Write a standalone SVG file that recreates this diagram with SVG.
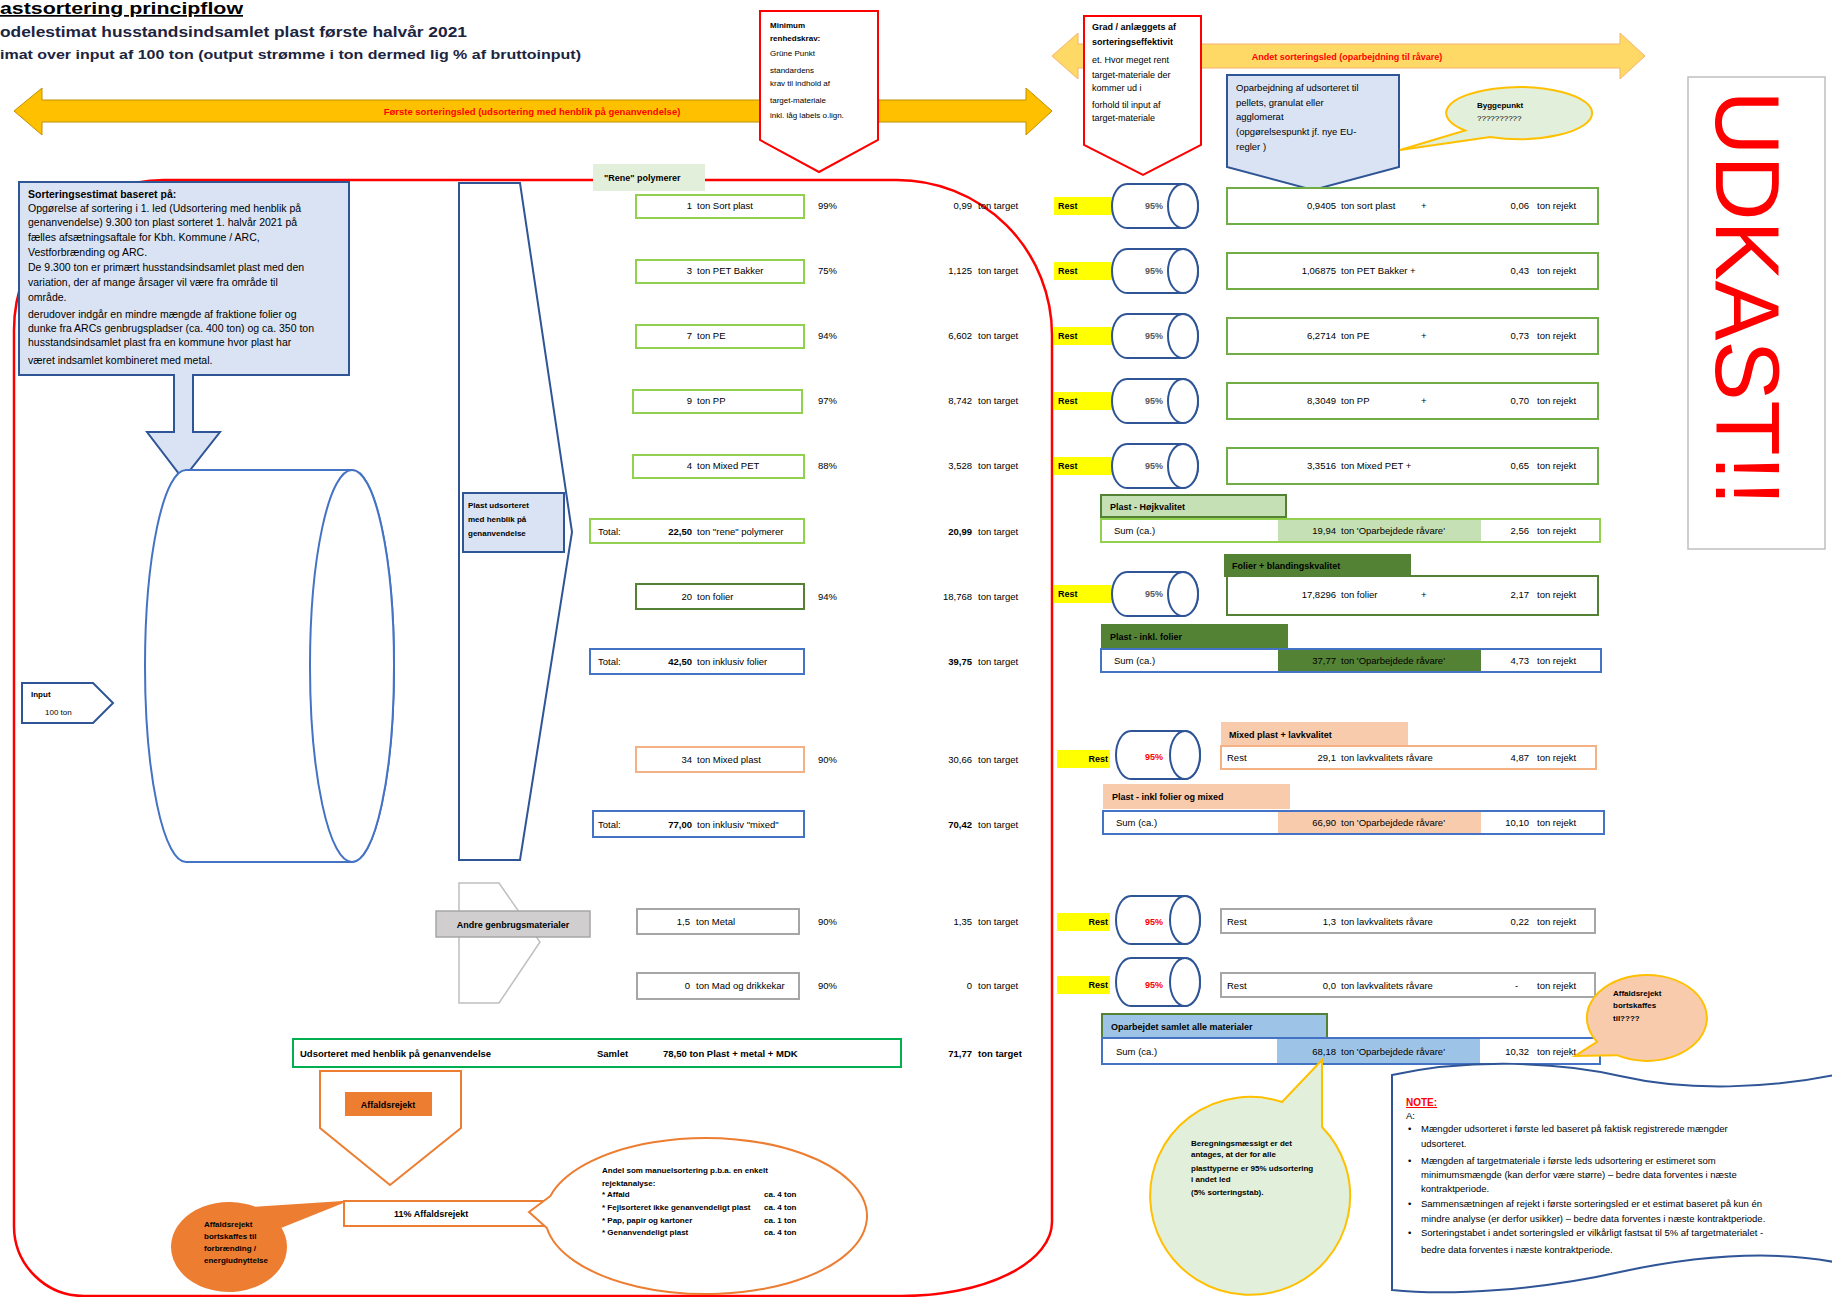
<svg xmlns="http://www.w3.org/2000/svg" width="1832" height="1297" viewBox="0 0 1832 1297">
<style>
text{font-family:"Liberation Sans",Arial,sans-serif;fill:#000;font-size:9.5px}
.f10{font-size:10.5px}
.f9{font-size:9px}
.f8{font-size:8px}
.b{font-weight:bold}
.e{text-anchor:end}
.m{text-anchor:middle}
.red{fill:#FF0000}
.gr{fill:#595959}
.bx{fill:#fff;stroke-width:2}
.lg{stroke:#92D050}
.rg{stroke:#70AD47}
.dg{stroke:#548235}
.bl{stroke:#4472C4}
.og{stroke:#F4B183}
.gy{stroke:#A6A6A6}
.cyl{fill:#fff;stroke:#2F5597;stroke-width:2}
.yel{fill:#FFFF00}
.t1{font-size:17px;font-weight:bold;text-decoration:underline}
.t2{font-size:15.5px;font-weight:bold;fill:#1c2440}
.t3{font-size:13.5px;font-weight:bold;fill:#1c2440}
.udk{font-size:90px;fill:#FF0000;text-anchor:middle}
.note{font-size:10px;font-weight:bold;fill:#FF0000;text-decoration:underline}
</style>
<defs>
<g id="cy"><path class="cyl" d="M-28,-22 H28 A15,22 0 0 1 28,22 H-28 A15,22 0 0 1 -28,-22 Z"/><ellipse class="cyl" cx="28" cy="0" rx="15" ry="22"/></g>
<g id="cy2"><path class="cyl" d="M-27,-24 H27 A15,24 0 0 1 27,24 H-27 A15,24 0 0 1 -27,-24 Z"/><ellipse class="cyl" cx="27" cy="0" rx="15" ry="24"/></g>
</defs>
<rect width="1832" height="1297" fill="#fff"/>

<g id="title">
<text x="0" y="14" class="t1" textLength="243" lengthAdjust="spacingAndGlyphs">astsortering principflow</text>
<text x="0" y="37" class="t2" textLength="467" lengthAdjust="spacingAndGlyphs">odelestimat husstandsindsamlet plast første halvår 2021</text>
<text x="0" y="59" class="t3" textLength="581" lengthAdjust="spacingAndGlyphs">imat over input af 100 ton (output strømme i ton dermed lig % af bruttoinput)</text>
</g>

<g id="frame"><path d="M164,180 H897 A155,155 0 0 1 1052,335 V1222 A150,74 0 0 1 902,1296 H84 A70,70 0 0 1 14,1226 V330 A150,150 0 0 1 164,180 Z" fill="none" stroke="#FF0000" stroke-width="2.5"/></g>

<g id="arrow-first">
<polygon points="14,111 42,88 42,100 1026,100 1026,88 1052,111 1026,135 1026,122 42,122 42,135" fill="#FFC000" stroke="#C09000" stroke-width="1"/>
<text x="532" y="115" class="m red b">Første sorteringsled (udsortering med henblik på genanvendelse)</text>
</g>
<g id="arrow-second">
<polygon points="1052,56 1078,33 1078,44 1620,44 1620,33 1645,56 1620,79 1620,68 1078,68 1078,79" fill="#FFD966" stroke="#F5B26B" stroke-width="1"/>
<text x="1347" y="60" class="m red b f9">Andet sorteringsled (oparbejdning til råvare)</text>
</g>

<g id="minimum">
<polygon points="760,11 878,11 878,140 819,172 760,140" fill="#fff" stroke="#FF0000" stroke-width="2"/>
<text x="770" y="28" class="b f8">Minimum</text>
<text x="770" y="41" class="b f8">renhedskrav:</text>
<text x="770" y="56" class="f8">Grüne Punkt</text>
<text x="770" y="73" class="f8">standardens</text>
<text x="770" y="86" class="f8">krav til indhold af</text>
<text x="770" y="103" class="f8">target-materiale</text>
<text x="770" y="118" class="f8">inkl. låg labels o.lign.</text>
</g>

<g id="grad">
<polygon points="1084,16 1201,16 1201,145 1143,175 1084,145" fill="#fff" stroke="#FF0000" stroke-width="2"/>
<text x="1092" y="30" class="b f9">Grad / anlæggets af</text>
<text x="1092" y="45" class="b f9">sorteringseffektivit</text>
<text x="1092" y="63" class="f9">et. Hvor meget rent</text>
<text x="1092" y="78" class="f9">target-materiale der</text>
<text x="1092" y="91" class="f9">kommer ud i</text>
<text x="1092" y="108" class="f9">forhold til input af</text>
<text x="1092" y="121" class="f9">target-materiale</text>
</g>

<g id="oparbejdning">
<polygon points="1227,75 1399,75 1399,167 1313,190 1227,167" fill="#DAE3F3" stroke="#2F5597" stroke-width="2"/>
<text x="1236" y="91">Oparbejdning af udsorteret til</text>
<text x="1236" y="106">pellets, granulat eller</text>
<text x="1236" y="120">agglomerat</text>
<text x="1236" y="135">(opgørelsespunkt jf. nye EU-</text>
<text x="1236" y="150">regler )</text>
</g>

<g id="bubble-byggepunkt">
<path d="M1465,130.5 L1400,150 L1490,136.9 A73,26 0 1 0 1465,130.5 Z" fill="#E2EFDA" stroke="#FFC000" stroke-width="2"/>
<text x="1477" y="108" class="b f8">Byggepunkt</text>
<text x="1477" y="121" class="f8">??????????</text>
</g>

<g id="udkast">
<rect x="1688" y="77" width="137" height="472" fill="#fff" stroke="#BFBFBF" stroke-width="1.5"/>
<text transform="translate(1716,298) rotate(90)" class="udk">UDKAST!!</text>
</g>

<g id="info-box">
<rect x="19" y="182" width="330" height="193" fill="#DAE3F3" stroke="#2F5597" stroke-width="2"/>
<text x="28" y="198" class="f10 b">Sorteringsestimat baseret på:</text>
<text x="28" y="212" class="f10">Opgørelse af sortering i 1. led (Udsortering med henblik på</text>
<text x="28" y="226" class="f10">genanvendelse) 9.300 ton plast sorteret 1. halvår 2021 på</text>
<text x="28" y="241" class="f10">fælles afsætningsaftale for Kbh. Kommune / ARC,</text>
<text x="28" y="256" class="f10">Vestforbrænding og ARC.</text>
<text x="28" y="271" class="f10">De 9.300 ton er primært husstandsindsamlet plast med den</text>
<text x="28" y="286" class="f10">variation, der af mange årsager vil være fra område til</text>
<text x="28" y="301" class="f10">område.</text>
<text x="28" y="318" class="f10">derudover indgår en mindre mængde af fraktione folier og</text>
<text x="28" y="332" class="f10">dunke fra ARCs genbrugspladser (ca. 400 ton) og ca. 350 ton</text>
<text x="28" y="346" class="f10">husstandsindsamlet plast fra en kommune hvor plast har</text>
<text x="28" y="364" class="f10">været indsamlet kombineret med metal.</text>
</g>

<g id="connectors">
<polygon points="174,375 193,375 193,432 220,432 183,479 147,432 174,432" fill="#DAE3F3" stroke="#2F5597" stroke-width="2"/>
<rect x="175" y="372" width="17" height="6" fill="#DAE3F3"/>
</g>

<g id="cylinder-main">
<path d="M186,470 H352 A42,196 0 0 1 352,862 H186 A41,196 0 0 1 186,470 Z" fill="#fff" stroke="#4472C4" stroke-width="2"/>
<ellipse cx="352" cy="666" rx="42" ry="196" fill="#fff" stroke="#4472C4" stroke-width="2"/>
</g>

<g id="input">
<polygon points="22,683 93,683 113,703 93,723 22,723" fill="#fff" stroke="#2F5597" stroke-width="2"/>
<text x="31" y="697" class="b f8">Input</text>
<text x="45" y="715" class="f8">100 ton</text>
</g>

<g id="funnel">
<polygon points="459,183 520,183 572,532 520,860 459,860" fill="#fff" stroke="#2F5597" stroke-width="2"/>
<rect x="463" y="493" width="101" height="59" fill="#DAE3F3" stroke="#2F5597" stroke-width="2"/>
<text x="468" y="508" class="b f8">Plast udsorteret</text>
<text x="468" y="522" class="b f8">med henblik på</text>
<text x="468" y="536" class="b f8">genanvendelse</text>
</g>

<g id="funnel-andre">
<polygon points="459,883 499,883 540,942 499,1003 459,1003" fill="#fff" stroke="#BFBFBF" stroke-width="1.5"/>
<rect x="436" y="911" width="154" height="26" fill="#D0CECE" stroke="#A6A6A6" stroke-width="1.5"/>
<text x="513" y="928" class="m b f9">Andre genbrugsmaterialer</text>
</g>

<g id="rene-label">
<rect x="593" y="164" width="112" height="27" fill="#E2EFDA"/>
<text x="604" y="181" class="b f9">"Rene" polymerer</text>
</g>

<g id="row-sort">
<rect class="bx lg" x="636" y="195" width="168" height="23"/>
<text x="692" y="209" class="e">1</text><text x="697" y="209">ton Sort plast</text>
<text x="818" y="209">99%</text>
<text x="972" y="209" class="e">0,99</text><text x="978" y="209">ton target</text>
</g>
<g id="row-pet">
<rect class="bx lg" x="636" y="260" width="168" height="23"/>
<text x="692" y="274" class="e">3</text><text x="697" y="274">ton PET Bakker</text>
<text x="818" y="274">75%</text>
<text x="972" y="274" class="e">1,125</text><text x="978" y="274">ton target</text>
</g>
<g id="row-pe">
<rect class="bx lg" x="636" y="325" width="168" height="23"/>
<text x="692" y="339" class="e">7</text><text x="697" y="339">ton PE</text>
<text x="818" y="339">94%</text>
<text x="972" y="339" class="e">6,602</text><text x="978" y="339">ton target</text>
</g>
<g id="row-pp">
<rect class="bx lg" x="633" y="390" width="169" height="23"/>
<text x="692" y="404" class="e">9</text><text x="697" y="404">ton PP</text>
<text x="818" y="404">97%</text>
<text x="972" y="404" class="e">8,742</text><text x="978" y="404">ton target</text>
</g>
<g id="row-mixedpet">
<rect class="bx lg" x="633" y="455" width="171" height="23"/>
<text x="692" y="469" class="e">4</text><text x="697" y="469">ton Mixed PET</text>
<text x="818" y="469">88%</text>
<text x="972" y="469" class="e">3,528</text><text x="978" y="469">ton target</text>
</g>
<g id="total-rene">
<rect class="bx lg" x="590" y="519" width="214" height="24"/>
<text x="598" y="535">Total:</text>
<text x="692" y="535" class="e b">22,50</text><text x="697" y="535">ton "rene" polymerer</text>
<text x="972" y="535" class="e b">20,99</text><text x="978" y="535">ton target</text>
</g>
<g id="row-folier">
<rect class="bx dg" x="636" y="584" width="168" height="25"/>
<text x="692" y="600" class="e">20</text><text x="697" y="600">ton folier</text>
<text x="818" y="600">94%</text>
<text x="972" y="600" class="e">18,768</text><text x="978" y="600">ton target</text>
</g>
<g id="total-folier">
<rect class="bx bl" x="590" y="649" width="214" height="25"/>
<text x="598" y="665">Total:</text>
<text x="692" y="665" class="e b">42,50</text><text x="697" y="665">ton inklusiv folier</text>
<text x="972" y="665" class="e b">39,75</text><text x="978" y="665">ton target</text>
</g>
<g id="row-mixed">
<rect class="bx og" x="636" y="747" width="168" height="25"/>
<text x="692" y="763" class="e">34</text><text x="697" y="763">ton Mixed plast</text>
<text x="818" y="763">90%</text>
<text x="972" y="763" class="e">30,66</text><text x="978" y="763">ton target</text>
</g>
<g id="total-mixed">
<rect class="bx bl" x="593" y="811" width="211" height="26"/>
<text x="598" y="828">Total:</text>
<text x="692" y="828" class="e b">77,00</text><text x="697" y="828">ton inklusiv "mixed"</text>
<text x="972" y="828" class="e b">70,42</text><text x="978" y="828">ton target</text>
</g>
<g id="row-metal">
<rect class="bx gy" x="637" y="909" width="162" height="25"/>
<text x="690" y="925" class="e">1,5</text><text x="696" y="925">ton Metal</text>
<text x="818" y="925">90%</text>
<text x="972" y="925" class="e">1,35</text><text x="978" y="925">ton target</text>
</g>
<g id="row-mad">
<rect class="bx gy" x="637" y="973" width="162" height="26"/>
<text x="690" y="989" class="e">0</text><text x="696" y="989">ton Mad og drikkekar</text>
<text x="818" y="989">90%</text>
<text x="972" y="989" class="e">0</text><text x="978" y="989">ton target</text>
</g>
<g id="total-samlet">
<rect class="bx" stroke="#00B050" x="293" y="1039" width="608" height="28"/>
<text x="300" y="1057" class="b">Udsorteret med henblik på genanvendelse</text>
<text x="597" y="1057" class="b">Samlet</text>
<text x="663" y="1057" class="b">78,50 ton Plast + metal + MDK</text>
<text x="972" y="1057" class="e b">71,77</text><text x="978" y="1057" class="b">ton target</text>
</g>

<g id="affald">
<polygon points="320,1071 461,1071 461,1128 390,1185 320,1128" fill="#fff" stroke="#ED7D31" stroke-width="2"/>
<rect x="345" y="1092" width="87" height="24" fill="#ED7D31"/>
<text x="388" y="1108" class="m b f9">Affaldsrejekt</text>
</g>
<g id="affald-11">
<rect x="344" y="1201" width="200" height="25" fill="#fff" stroke="#ED7D31" stroke-width="2"/>
<text x="394" y="1217" class="b f9">11% Affaldsrejekt</text>
</g>
<g id="bubble-rejekt">
<path d="M550.4,1196 L529,1212 L546.9,1228 A161,78 0 1 0 550.4,1196 Z" fill="#fff" stroke="#ED7D31" stroke-width="2"/>
<text x="602" y="1173" class="b f8">Andel som manuelsortering p.b.a. en enkelt</text>
<text x="602" y="1186" class="b f8">rejektanalyse:</text>
<text x="602" y="1197" class="b f8">* Affald</text><text x="764" y="1197" class="b f8">ca. 4 ton</text>
<text x="602" y="1210" class="b f8">* Fejlsorteret ikke genanvendeligt plast</text><text x="764" y="1210" class="b f8">ca. 4 ton</text>
<text x="602" y="1223" class="b f8">* Pap, papir og kartoner</text><text x="764" y="1223" class="b f8">ca. 1 ton</text>
<text x="602" y="1235" class="b f8">* Genanvendeligt plast</text><text x="764" y="1235" class="b f8">ca. 4 ton</text>
</g>
<g id="bubble-forbraending">
<path d="M255,1207.8 L343,1202 L280,1227.3 A57,44 0 1 1 255,1207.8 Z" fill="#ED7D31" stroke="#ED7D31" stroke-width="2"/>
<text x="204" y="1227" class="b f8">Affaldsrejekt</text>
<text x="204" y="1239" class="b f8">bortskaffes til</text>
<text x="204" y="1251" class="b f8">forbrænding /</text>
<text x="204" y="1263" class="b f8">energiudnyttelse</text>
</g>

<g id="right-rows">
<g id="r-sort">
<rect class="yel" x="1054" y="197" width="58" height="18"/><text x="1058" y="209" class="b f9">Rest</text>
<use href="#cy" x="1155" y="206"/><text x="1154" y="209" class="m gr f9 b">95%</text>
<rect class="bx rg" x="1227" y="188" width="371" height="36"/>
<text x="1336" y="209" class="e">0,9405</text><text x="1341" y="209">ton sort plast</text><text x="1421" y="209">+</text>
<text x="1529" y="209" class="e">0,06</text><text x="1537" y="209">ton rejekt</text>
</g>
<g id="r-pet">
<rect class="yel" x="1054" y="262" width="58" height="18"/><text x="1058" y="274" class="b f9">Rest</text>
<use href="#cy" x="1155" y="271"/><text x="1154" y="274" class="m gr f9 b">95%</text>
<rect class="bx rg" x="1227" y="253" width="371" height="36"/>
<text x="1336" y="274" class="e">1,06875</text><text x="1341" y="274">ton PET Bakker +</text>
<text x="1529" y="274" class="e">0,43</text><text x="1537" y="274">ton rejekt</text>
</g>
<g id="r-pe">
<rect class="yel" x="1054" y="327" width="58" height="18"/><text x="1058" y="339" class="b f9">Rest</text>
<use href="#cy" x="1155" y="336"/><text x="1154" y="339" class="m gr f9 b">95%</text>
<rect class="bx rg" x="1227" y="318" width="371" height="36"/>
<text x="1336" y="339" class="e">6,2714</text><text x="1341" y="339">ton PE</text><text x="1421" y="339">+</text>
<text x="1529" y="339" class="e">0,73</text><text x="1537" y="339">ton rejekt</text>
</g>
<g id="r-pp">
<rect class="yel" x="1054" y="392" width="58" height="18"/><text x="1058" y="404" class="b f9">Rest</text>
<use href="#cy" x="1155" y="401"/><text x="1154" y="404" class="m gr f9 b">95%</text>
<rect class="bx rg" x="1227" y="383" width="371" height="36"/>
<text x="1336" y="404" class="e">8,3049</text><text x="1341" y="404">ton PP</text><text x="1421" y="404">+</text>
<text x="1529" y="404" class="e">0,70</text><text x="1537" y="404">ton rejekt</text>
</g>
<g id="r-mixedpet">
<rect class="yel" x="1054" y="457" width="58" height="18"/><text x="1058" y="469" class="b f9">Rest</text>
<use href="#cy" x="1155" y="466"/><text x="1154" y="469" class="m gr f9 b">95%</text>
<rect class="bx rg" x="1227" y="448" width="371" height="36"/>
<text x="1336" y="469" class="e">3,3516</text><text x="1341" y="469">ton Mixed PET +</text>
<text x="1529" y="469" class="e">0,65</text><text x="1537" y="469">ton rejekt</text>
</g>
</g>

<g id="sum-hoj">
<rect x="1101" y="495" width="185" height="22" fill="#C5E0B4" stroke="#548235" stroke-width="2"/>
<text x="1110" y="510" class="b f9">Plast - Højkvalitet</text>
<rect class="bx lg" x="1101" y="519" width="499" height="23"/>
<rect x="1278" y="520" width="203" height="21" fill="#C5E0B4"/>
<text x="1114" y="534">Sum (ca.)</text>
<text x="1336" y="534" class="e">19,94</text><text x="1341" y="534">ton 'Oparbejdede råvare'</text>
<text x="1529" y="534" class="e">2,56</text><text x="1537" y="534">ton rejekt</text>
</g>

<g id="r-folier">
<rect class="yel" x="1054" y="585" width="58" height="18"/><text x="1058" y="597" class="b f9">Rest</text>
<use href="#cy" x="1155" y="594"/><text x="1154" y="597" class="m gr f9 b">95%</text>
<rect x="1224" y="554" width="187" height="23" fill="#548235"/>
<text x="1232" y="569" class="b f9">Folier + blandingskvalitet</text>
<rect class="bx dg" x="1227" y="576" width="371" height="39"/>
<text x="1336" y="598" class="e">17,8296</text><text x="1341" y="598">ton folier</text><text x="1421" y="598">+</text>
<text x="1529" y="598" class="e">2,17</text><text x="1537" y="598">ton rejekt</text>
</g>

<g id="sum-folier">
<rect x="1101" y="624" width="187" height="25" fill="#548235"/>
<text x="1110" y="640" class="b f9">Plast - inkl. folier</text>
<rect class="bx bl" x="1101" y="649" width="500" height="23"/>
<rect x="1278" y="650" width="203" height="21" fill="#548235"/>
<text x="1114" y="664">Sum (ca.)</text>
<text x="1336" y="664" class="e">37,77</text><text x="1341" y="664">ton 'Oparbejdede råvare'</text>
<text x="1529" y="664" class="e">4,73</text><text x="1537" y="664">ton rejekt</text>
</g>

<g id="r-mixed">
<rect class="yel" x="1057" y="750" width="53" height="18"/><text x="1108" y="762" class="e b f9">Rest</text>
<use href="#cy2" x="1158" y="755"/><text x="1154" y="760" class="m red f9 b">95%</text>
<rect x="1221" y="722" width="187" height="23" fill="#F8CBAD"/>
<text x="1229" y="738" class="b f9">Mixed plast + lavkvalitet</text>
<rect class="bx og" x="1221" y="746" width="375" height="23"/>
<text x="1227" y="761">Rest</text>
<text x="1336" y="761" class="e">29,1</text><text x="1341" y="761">ton lavkvalitets råvare</text>
<text x="1529" y="761" class="e">4,87</text><text x="1537" y="761">ton rejekt</text>
</g>

<g id="sum-mixed">
<rect x="1103" y="784" width="187" height="25" fill="#F8CBAD"/>
<text x="1112" y="800" class="b f9">Plast - inkl folier og mixed</text>
<rect class="bx bl" x="1103" y="811" width="501" height="23"/>
<rect x="1278" y="812" width="203" height="21" fill="#F8CBAD"/>
<text x="1116" y="826">Sum (ca.)</text>
<text x="1336" y="826" class="e">66,90</text><text x="1341" y="826">ton 'Oparbejdede råvare'</text>
<text x="1529" y="826" class="e">10,10</text><text x="1537" y="826">ton rejekt</text>
</g>

<g id="r-metal">
<rect class="yel" x="1057" y="913" width="53" height="18"/><text x="1108" y="925" class="e b f9">Rest</text>
<use href="#cy2" x="1158" y="920"/><text x="1154" y="925" class="m red f9 b">95%</text>
<rect class="bx gy" x="1221" y="909" width="374" height="24"/>
<text x="1227" y="925">Rest</text>
<text x="1336" y="925" class="e">1,3</text><text x="1341" y="925">ton lavkvalitets råvare</text>
<text x="1529" y="925" class="e">0,22</text><text x="1537" y="925">ton rejekt</text>
</g>
<g id="r-mad">
<rect class="yel" x="1057" y="976" width="53" height="18"/><text x="1108" y="988" class="e b f9">Rest</text>
<use href="#cy2" x="1158" y="982"/><text x="1154" y="988" class="m red f9 b">95%</text>
<rect class="bx gy" x="1221" y="973" width="374" height="24"/>
<text x="1227" y="989">Rest</text>
<text x="1336" y="989" class="e">0,0</text><text x="1341" y="989">ton lavkvalitets råvare</text>
<text x="1515" y="989">-</text><text x="1537" y="989">ton rejekt</text>
</g>

<g id="sum-samlet">
<rect x="1102" y="1014" width="225" height="25" fill="#9DC3E6" stroke="#548235" stroke-width="2"/>
<text x="1111" y="1030" class="b f9">Oparbejdet samlet alle materialer</text>
<rect class="bx bl" x="1102" y="1038" width="498" height="26"/>
<rect x="1277" y="1039" width="203" height="24" fill="#9DC3E6"/>
<text x="1116" y="1055">Sum (ca.)</text>
<text x="1336" y="1055" class="e">68,18</text><text x="1341" y="1055">ton 'Oparbejdede råvare'</text>
<text x="1529" y="1055" class="e">10,32</text><text x="1537" y="1055">ton rejekt</text>
</g>

<g id="bubble-affald-right">
<path d="M1597,1041.8 L1575,1056 L1617,1055.2 A60,43 0 1 0 1597,1041.8 Z" fill="#F8CBAD" stroke="#FFC000" stroke-width="2"/>
<text x="1613" y="996" class="b f8">Affaldsrejekt</text>
<text x="1613" y="1008" class="b f8">bortskaffes</text>
<text x="1613" y="1021" class="b f8">til????</text>
</g>

<g id="bubble-sortering">
<path d="M1282,1102 L1322,1060 L1322,1127 A100,99 0 1 1 1282,1102 Z" fill="#E2EFDA" stroke="#FFC000" stroke-width="2"/>
<text x="1191" y="1146" class="b f8">Beregningsmæssigt er det</text>
<text x="1191" y="1157" class="b f8">antages, at der for alle</text>
<text x="1191" y="1171" class="b f8">plasttyperne er 95% udsortering</text>
<text x="1191" y="1182" class="b f8">i andet led</text>
<text x="1191" y="1195" class="b f8">(5% sorteringstab).</text>
</g>

<g id="note">
<path d="M1392,1075 C1470,1058 1560,1062 1620,1076 C1690,1092 1770,1088 1834,1075 L1834,1262 C1770,1250 1700,1255 1620,1272 C1540,1290 1450,1296 1392,1290 Z" fill="#fff" stroke="#2F5597" stroke-width="2"/>
<text x="1406" y="1106" class="note">NOTE:</text>
<text x="1406" y="1119">A:</text>
<text x="1408" y="1132">•</text><text x="1421" y="1132">Mængder udsorteret i første led baseret på faktisk registrerede mængder</text>
<text x="1421" y="1147">udsorteret.</text>
<text x="1408" y="1164">•</text><text x="1421" y="1164">Mængden af targetmateriale i første leds udsortering er estimeret som</text>
<text x="1421" y="1178">minimumsmængde (kan derfor være større) – bedre data forventes i næste</text>
<text x="1421" y="1192">kontraktperiode.</text>
<text x="1408" y="1207">•</text><text x="1421" y="1207">Sammensætningen af rejekt i første sorteringsled er et estimat baseret på kun én</text>
<text x="1421" y="1222">mindre analyse (er derfor usikker) – bedre data forventes i næste kontraktperiode.</text>
<text x="1408" y="1236">•</text><text x="1421" y="1236">Sorteringstabet i andet sorteringsled er vilkårligt fastsat til 5% af targetmaterialet -</text>
<text x="1421" y="1253">bedre data forventes i næste kontraktperiode.</text>
</g>
</svg>
